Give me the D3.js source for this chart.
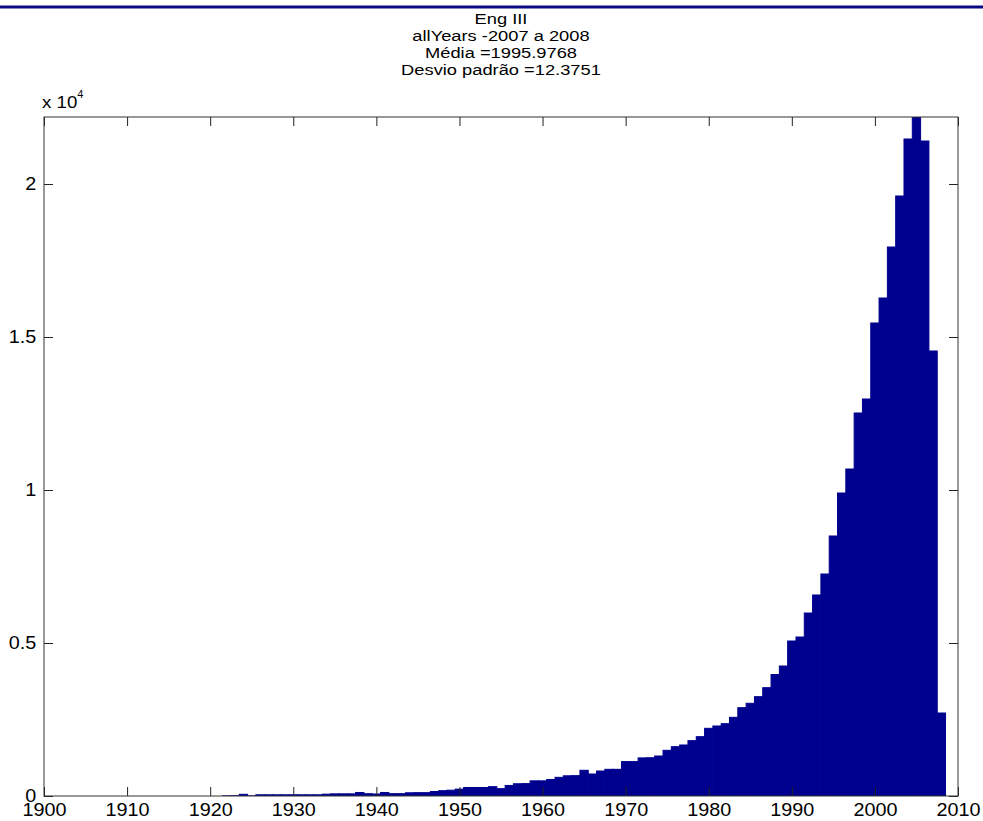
<!DOCTYPE html>
<html>
<head>
<meta charset="utf-8">
<script src="https://cdn.jsdelivr.net/npm/d3@7"></script>
<style>
  body { margin: 0; background: #fff; }
  text { font-family: "Liberation Sans", Arial, sans-serif; fill: #000; }
</style>
</head>
<body>
<div id="chart"></div>
<script>
// histogram counts, one bin per year (bin centres)
const years = d3.range(1900, 2009)
const counts = [
  0, 0, 0, 0, 0, 0, 0, 0, 0, 0,                 // 1900-1909
  0, 0, 0, 0, 0, 0, 0, 0, 0, 0,                 // 1910-1919
  0, 0, 5, 8, 55, 5, 40, 40, 40, 40,            // 1920-1929
  40, 40, 40, 40, 60, 70, 70, 70, 115, 75,      // 1930-1939
  65, 115, 76, 76, 105, 109, 109, 147, 174, 190, // 1940-1949
  225, 278, 278, 278, 305, 240, 345, 400, 405, 495, // 1950-1959
  495, 540, 610, 660, 665, 840, 719, 817, 872, 872, // 1960-1969
  1125, 1125, 1245, 1250, 1307, 1493, 1612, 1667, 1808, 1939, // 1970-1979
  2212, 2288, 2364, 2571, 2887, 3029, 3246, 3540, 3970, 4248, // 1980-1989
  5065, 5196, 5980, 6569, 7255, 8497, 9902, 10686, 12517, 12974, // 1990-1999
  15458, 16275, 17941, 19608, 21471, 22600, 21405, 14543, 2712  // 2000-2008
]
const xTicks = [1900, 1910, 1920, 1930, 1940, 1950, 1960, 1970, 1980, 1990, 2000, 2010]
const yTicks = [0, 5000, 10000, 15000, 20000]
const titleLines = ["Eng III", "allYears -2007 a 2008", "Média =1995.9768", "Desvio padrão =12.3751"]

const width = 983, height = 821
const plotL = 44, plotR = 958, plotT = 117, plotB = 796
const barColor = "#00008f"
const stretch = 1.1   // text in the picture is drawn a bit wide

const svg = d3.select("#chart").append("svg")
    .attr("width", width)
    .attr("height", height)

// blue rule across the top of the page
svg.append("line")
    .attr("x1", 0).attr("x2", width)
    .attr("y1", 7).attr("y2", 7)
    .attr("stroke", "#0a0a82")
    .attr("stroke-width", 3)

const x = d3.scaleLinear().domain([1900, 2010]).range([plotL, plotR])
const y = d3.scaleLinear().domain([0, 22190]).range([plotB, plotT])

svg.append("clipPath").attr("id", "plot")
  .append("rect")
    .attr("x", plotL).attr("y", plotT)
    .attr("width", plotR - plotL).attr("height", plotB - plotT)

// bars (zero bins still leave their edge on the baseline)
svg.append("g")
    .attr("clip-path", "url(#plot)")
  .selectAll("rect")
  .data(years.map((yr, i) => ({ yr, n: counts[i] })))
  .join("rect")
    .attr("x", d => x(d.yr - 0.5))
    .attr("width", d => x(d.yr + 0.5) - x(d.yr - 0.5))
    .attr("y", d => y(d.n))
    .attr("height", d => y(0) - y(d.n))
    .attr("fill", barColor)
    .attr("stroke", barColor)
    .attr("stroke-width", 1)

// axes, ticks pointing inwards on all four sides
const fmtY = d => d3.format("~g")(d / 10000)

const gx = svg.append("g")
    .attr("transform", `translate(0,${plotB})`)
    .call(d3.axisBottom(x).tickValues(xTicks).tickSize(-9).tickPadding(7).tickFormat(d3.format("d")))
gx.selectAll("text").attr("transform", `scale(${stretch},1)`)

const gy = svg.append("g")
    .attr("transform", `translate(${plotL},0)`)
    .call(d3.axisLeft(y).tickValues(yTicks).tickSize(-9).tickPadding(7).tickFormat(fmtY))
gy.selectAll("text").attr("transform", `scale(${stretch},1)`)

svg.append("g")
    .attr("transform", `translate(0,${plotT})`)
    .call(d3.axisTop(x).tickValues(xTicks).tickSize(-9).tickFormat(""))

svg.append("g")
    .attr("transform", `translate(${plotR},0)`)
    .call(d3.axisRight(y).tickValues(yTicks).tickSize(-9).tickFormat(""))

svg.selectAll(".domain").remove()
svg.selectAll(".tick line").attr("stroke", "#222")
svg.selectAll(".tick text").attr("font-size", 18).attr("font-family", null)

svg.append("rect")
    .attr("x", plotL).attr("y", plotT)
    .attr("width", plotR - plotL).attr("height", plotB - plotT)
    .attr("fill", "none")
    .attr("stroke", "#333")
    .attr("stroke-width", 1)

// exponent label
const exp = svg.append("text")
    .attr("transform", `translate(42,108) scale(${stretch},1)`)
    .attr("font-size", 17)
exp.append("tspan").text("x 10")
exp.append("tspan").attr("font-size", 10).attr("dy", -10).text("4")

// title lines
svg.append("g")
  .selectAll("text")
  .data(titleLines)
  .join("text")
    .attr("transform", (d, i) => `translate(${(plotL + plotR) / 2},${24 + i * 17}) scale(1.22,1)`)
    .attr("text-anchor", "middle")
    .attr("font-size", 15)
    .text(d => d)
</script>
</body>
</html>
